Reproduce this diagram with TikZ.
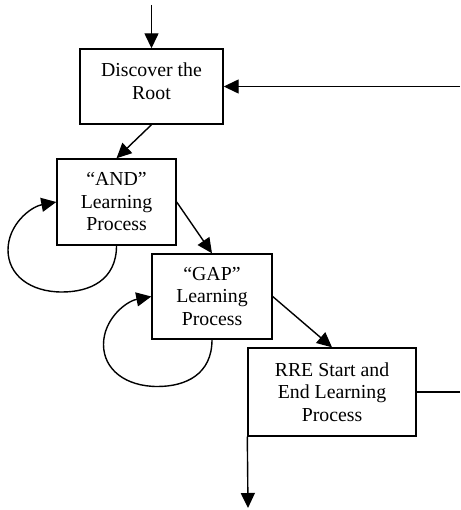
\documentclass[tikz,border=0pt]{standalone}
\usepackage{fontspec}
\setmainfont{Liberation Serif}
\usetikzlibrary{arrows.meta}
\begin{document}
\begin{tikzpicture}[x=1pt,y=-1pt,
  box/.style={draw, line width=1.4pt, inner sep=0pt},
  lbl/.style={font=\fontsize{19.8}{22.5}\selectfont, align=center, inner sep=0pt},
  arr/.style={-{Triangle[length=15pt,width=14pt]}, line width=1.4pt},
  plain/.style={line width=1.4pt}]
\useasboundingbox (0,0) rectangle (460,510);
% boxes
\node[box, minimum width=143pt, minimum height=75pt] (root) at (151.5,86.5) {};
\node[lbl] (roottxt) at (151.5,81) {Discover the\\Root};
\node[box, minimum width=119pt, minimum height=86pt] (and) at (116.5,202) {};
\node[lbl] (andtxt) at (116.5,202) {“AND”\\Learning\\Process};
\node[box, minimum width=120pt, minimum height=85pt] (gap) at (212,296.5) {};
\node[lbl] (gaptxt) at (212,296.5) {“GAP”\\Learning\\Process};
\node[box, minimum width=168pt, minimum height=88pt] (rre) at (332,392) {};
\node[lbl] (rretxt) at (332,392) {RRE Start and\\End Learning\\Process};
% free ends
\coordinate (top) at (151.5,5);
\coordinate (rin) at (460,86.5);
\coordinate (rout) at (460,392);
\coordinate (bot) at (248,508);
% connectors
\draw[arr] (top) -- (root.north);
\draw[arr] (rin) -- (root.east);
\draw[arr] (root.south) -- (and.north);
\draw[arr] (and.east) -- (gap.north);
\draw[arr] (gap.east) -- (rre.north);
\draw[plain] (rre.east) -- (rout);
\draw[arr] (rre.south west) -- (bot);
% self loops
\draw[arr] (and.south) .. controls (116.5,280) and (90,292) .. (62,292)
  .. controls (30,292) and (8,275) .. (8,250)
  .. controls (8,225) and (30,207) .. (and.west);
\draw[arr] (gap.south) .. controls (212,374.5) and (185.5,386.5) .. (157.5,386.5)
  .. controls (125.5,386.5) and (103.5,369.5) .. (103.5,344.5)
  .. controls (103.5,319.5) and (125.5,301.5) .. (gap.west);
\end{tikzpicture}
\end{document}
